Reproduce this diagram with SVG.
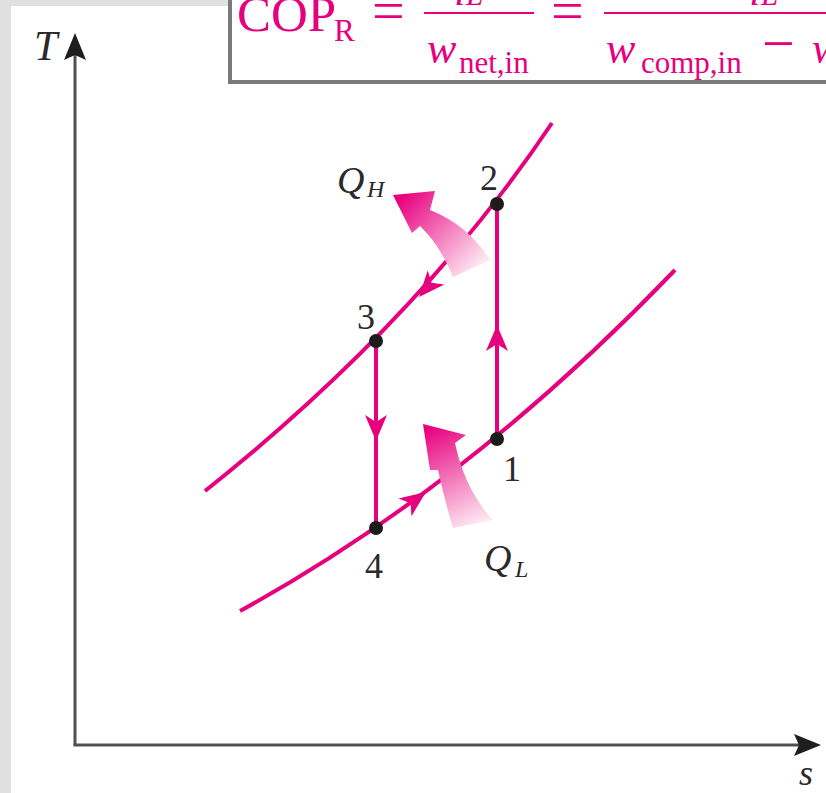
<svg xmlns="http://www.w3.org/2000/svg" width="826" height="793" viewBox="0 0 826 793">
<style>
.curve{fill:none;stroke:#e6007e;stroke-width:4}
.seg{fill:none;stroke:#e6007e;stroke-width:4}
.axis{stroke:#505050;stroke-width:3;fill:none}
.lbl{font-family:"Liberation Serif",serif;fill:#2a2a2a}
.fm{font-family:"Liberation Serif",serif;fill:#e6007e}
.it{font-style:italic}
.dot{fill:#1c1c1c}
.ah{fill:#e6007e}
</style>
<defs>
<path id="head" d="M0,0 L-26,-11 L-19,0 L-26,11 Z"/>
<linearGradient id="gH" gradientUnits="userSpaceOnUse" x1="475" y1="270" x2="400" y2="198">
<stop offset="0" stop-color="#fde8f2"/>
<stop offset="1" stop-color="#e8007f"/>
</linearGradient>
<linearGradient id="gL" gradientUnits="userSpaceOnUse" x1="475" y1="525" x2="428" y2="428">
<stop offset="0" stop-color="#fde8f2"/>
<stop offset="1" stop-color="#e8007f"/>
</linearGradient>
</defs>
<rect x="0" y="0" width="826" height="793" fill="#e0e0e0"/>
<rect x="11" y="6" width="815" height="787" fill="#ffffff"/>

<g id="formula">
<rect x="230" y="-20" width="640" height="102" fill="#ffffff" stroke="#7a7a7a" stroke-width="4"/>
<text class="fm" x="237" y="31" font-size="51">COP</text>
<text class="fm" x="334" y="41" font-size="31">R</text>
<text class="fm" x="372" y="30" font-size="58">=</text>
<line x1="424" y1="13" x2="534" y2="13" stroke="#e6007e" stroke-width="2"/>
<text class="fm it" x="445" y="-4" font-size="42">q</text>
<text class="fm it" x="466" y="5" font-size="31">L</text>
<text class="fm it" x="427" y="63" font-size="44">w</text>
<text class="fm" x="459" y="73" font-size="31">net,in</text>
<text class="fm" x="551" y="30" font-size="58">=</text>
<line x1="604" y1="13" x2="830" y2="13" stroke="#e6007e" stroke-width="2"/>
<text class="fm it" x="740" y="-4" font-size="42">q</text>
<text class="fm it" x="761" y="5" font-size="31">L</text>
<text class="fm it" x="606" y="63" font-size="44">w</text>
<text class="fm" x="641" y="73" font-size="31">comp,in</text>
<text class="fm" x="762" y="63" font-size="58">−</text>
<text class="fm it" x="812" y="63" font-size="44">w</text>
</g>

<g id="axes">
<line class="axis" x1="75" y1="52" x2="75" y2="745"/>
<line class="axis" x1="73.5" y1="745" x2="802" y2="745"/>
<path d="M75,33 L86,60 L75,55 L64,60 Z" fill="#1e1e1e"/>
<path d="M821,745 L794,734 L799,745 L794,756 Z" fill="#1e1e1e"/>
<text class="lbl it" x="34" y="60" font-size="42">T</text>
<text class="lbl it" x="799" y="785" font-size="36">s</text>
</g>

<g id="connectors">
<path id="high-isobar" class="curve" d="M205,491 Q420,320 552,123"/>
<path id="low-isobar" class="curve" d="M240,611 Q468,486 675,270"/>
<line class="seg" x1="497" y1="439" x2="497" y2="204"/>
<line class="seg" x1="376" y1="341" x2="376" y2="528"/>
<use href="#head" class="ah" transform="translate(497,325) rotate(-90)"/>
<use href="#head" class="ah" transform="translate(376,441) rotate(90)"/>
<use href="#head" class="ah" transform="translate(419,297) rotate(131)"/>
<use href="#head" class="ah" transform="translate(426,492) rotate(-36)"/>
</g>

<g id="QH">
<path d="M393,195 L435,191 L430,210 Q468,225 490,260 L453,277 Q440,245 420,226 L412,233 Z" fill="url(#gH)"/>
<text class="lbl it" x="337" y="193" font-size="38">Q</text>
<text class="lbl it" x="367" y="197" font-size="24">H</text>
</g>

<g id="QL">
<path d="M423,424 L466,435 L455,443 Q465,490 493,520 L453,528 Q444,498 438,470 L430,470 Z" fill="url(#gL)"/>
<text class="lbl it" x="484" y="571" font-size="38">Q</text>
<text class="lbl it" x="515" y="577" font-size="24">L</text>
</g>

<g id="state1">
<circle class="dot" cx="497" cy="439" r="7"/>
<text class="lbl" x="512" y="481" font-size="36" text-anchor="middle">1</text>
</g>
<g id="state2">
<circle class="dot" cx="497" cy="204" r="7"/>
<text class="lbl" x="489" y="190" font-size="36" text-anchor="middle">2</text>
</g>
<g id="state3">
<circle class="dot" cx="376" cy="341" r="7"/>
<text class="lbl" x="366" y="329" font-size="36" text-anchor="middle">3</text>
</g>
<g id="state4">
<circle class="dot" cx="376" cy="528" r="7"/>
<text class="lbl" x="374" y="578" font-size="36" text-anchor="middle">4</text>
</g>
</svg>
